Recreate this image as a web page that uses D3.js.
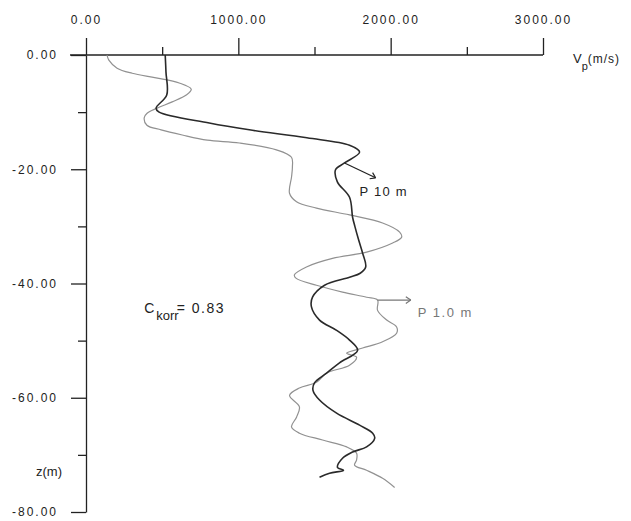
<!DOCTYPE html>
<html>
<head>
<meta charset="utf-8">
<script src="https://cdn.jsdelivr.net/npm/d3@7"></script>
<style>
  body { margin: 0; background: #fff; }
  text { font-family: "Liberation Sans", Arial, sans-serif; fill: #222; }
</style>
</head>
<body>
<div id="chart"></div>
<script>
// velocity ticks (m/s) and depth ticks (m)
var vpTicks = [0, 1000, 2000, 3000];
var vpMinor = [500, 1500, 2500];
var zTicks = [0, -20, -40, -60, -80];
var zMinor = [-10, -30, -50, -70];

// P 10 m profile
var depth10 = [0, -3, -7, -9.3, -10, -11.9, -13.1, -14.5, -15.8, -17, -18.9, -20.1, -22.2, -24.9, -28.4, -30, -32.4, -34.7, -37.1, -38.2, -38.9, -40.3, -42.4, -44.1, -46.4, -48.2, -49.9, -51.7, -53.9, -55.7, -57.4, -58.7, -60.4, -62.7, -64.8, -66.2, -67.1, -68.6, -69.5, -70.6, -72.2, -72.7, -73.2, -73.9];
var vp10 = [520, 525, 530, 460, 480, 809, 1072, 1450, 1730, 1796, 1697, 1638, 1650, 1730, 1750, 1765, 1790, 1816, 1836, 1800, 1730, 1566, 1487, 1480, 1533, 1645, 1730, 1783, 1664, 1579, 1500, 1490, 1533, 1645, 1796, 1882, 1895, 1842, 1750, 1684, 1651, 1690, 1599, 1533];

// P 1.0 m profile
var depth1 = [0, -0.9, -2.3, -3.2, -4, -4.9, -6, -7, -8.2, -9.3, -10.2, -11, -12.3, -13.1, -14, -14.9, -15.4, -16.6, -17.9, -19.6, -21.4, -24.2, -25.7, -26.8, -28, -29.4, -31, -31.9, -32.9, -34.5, -35.6, -37.1, -38.5, -39.1, -40.3, -41.5, -42.4, -42.9, -44.7, -46.4, -47.6, -48.7, -50.2, -51.3, -52.2, -52.9, -54.3, -55.7, -57.3, -58.3, -59.6, -61.6, -63.4, -65.1, -66.2, -67.4, -68.6, -69.7, -70.9, -71.8, -72.7, -74.1, -75.7];
var vp1 = [138, 150, 204, 303, 460, 612, 691, 658, 566, 467, 401, 382, 400, 493, 632, 796, 1007, 1250, 1349, 1355, 1349, 1336, 1382, 1513, 1730, 1947, 2059, 2072, 2013, 1842, 1618, 1447, 1368, 1380, 1513, 1684, 1842, 1914, 1914, 1974, 2039, 2039, 1947, 1816, 1711, 1776, 1730, 1579, 1513, 1401, 1336, 1401, 1382, 1349, 1401, 1553, 1711, 1776, 1776, 1763, 1842, 1947, 2026];

var width = 631, height = 521;
var svg = d3.select("#chart").append("svg")
    .attr("width", width)
    .attr("height", height);

var x = d3.scaleLinear().domain([0, 3000]).range([86, 543]);
var y = d3.scaleLinear().domain([0, -80]).range([55, 512]);
// plain hyphen like the original, not the unicode minus
var fmt = function(d){ return d.toFixed(2); };

// top axis
var xAxis = svg.append("g")
    .attr("class", "axis")
    .attr("transform", "translate(0," + y(0) + ")")
    .call(d3.axisTop(x).tickValues(vpTicks).tickSize(17).tickPadding(14).tickFormat(fmt));
svg.append("g")
    .attr("transform", "translate(0," + y(0) + ")")
    .call(d3.axisTop(x).tickValues(vpMinor).tickSize(8).tickFormat(""))
    .select(".domain").remove();
xAxis.select(".domain").remove();
svg.append("line")
    .attr("x1", x(0) - 16).attr("x2", x(3000))
    .attr("y1", y(0)).attr("y2", y(0))
    .attr("stroke", "#222").attr("stroke-width", 1.3);

// left axis
var yAxis = svg.append("g")
    .attr("class", "axis")
    .attr("transform", "translate(" + x(0) + ",0)")
    .call(d3.axisLeft(y).tickValues(zTicks).tickSize(15).tickSizeOuter(0).tickPadding(13).tickFormat(fmt));
svg.append("g")
    .attr("transform", "translate(" + x(0) + ",0)")
    .call(d3.axisLeft(y).tickValues(zMinor).tickSize(8).tickFormat(""))
    .select(".domain").remove();

svg.selectAll(".axis text")
    .style("font-size", "12px")
    .style("letter-spacing", "2px")
    .style("fill", "#222");
svg.selectAll("g line, g path").attr("stroke", "#222").attr("stroke-width", 1.3);

// profiles
var line = d3.line()
    .x(function(d){ return x(d[1]); })
    .y(function(d){ return y(d[0]); })
    .curve(d3.curveCatmullRom.alpha(0.5));

svg.append("path")
    .datum(d3.zip(depth1, vp1))
    .attr("d", line)
    .attr("fill", "none")
    .attr("stroke", "#919191")
    .attr("stroke-width", 1.2);

svg.append("path")
    .datum(d3.zip(depth10, vp10))
    .attr("d", line)
    .attr("fill", "none")
    .attr("stroke", "#2a2a2a")
    .attr("stroke-width", 1.6);

// arrows + labels
function arrow(v0, z0, v1, z1, col){
    var x0 = x(v0), y0 = y(z0), x1 = x(v1), y1 = y(z1);
    var a = Math.atan2(y1 - y0, x1 - x0);
    svg.append("line")
        .attr("x1", x0).attr("y1", y0).attr("x2", x1).attr("y2", y1)
        .attr("stroke", col).attr("stroke-width", 1.2);
    [0.6, -0.6].forEach(function(da){
        svg.append("line")
            .attr("x1", x1).attr("y1", y1)
            .attr("x2", x1 - 6 * Math.cos(a + da)).attr("y2", y1 - 6 * Math.sin(a + da))
            .attr("stroke", col).attr("stroke-width", 1.2);
    });
}
arrow(1697, -18.9, 1901, -21.5, "#222");
arrow(1914, -42.9, 2132, -42.9, "#777");

svg.append("text")
    .attr("x", x(1796)).attr("y", y(-24.7))
    .style("font-size", "13px").style("letter-spacing", "1.2px")
    .text("P 10 m");
svg.append("text")
    .attr("x", x(2178)).attr("y", y(-45.9))
    .style("font-size", "13px").style("letter-spacing", "1.5px")
    .style("fill", "#777")
    .text("P 1.0 m");

var ck = svg.append("text")
    .attr("x", x(382)).attr("y", y(-45.2))
    .style("font-size", "14px");
ck.append("tspan").text("C");
ck.append("tspan").attr("dy", 7).attr("dx", 2).style("font-size", "13px").text("korr");
ck.append("tspan").attr("dy", -7).attr("dx", -2).style("letter-spacing", "1.5px").text("= 0.83");

var vp = svg.append("text")
    .attr("x", 573).attr("y", 63)
    .style("font-size", "13px");
vp.append("tspan").text("V");
vp.append("tspan").attr("dy", 7).style("font-size", "11px").text("p");
vp.append("tspan").attr("dy", -7).style("font-size", "12px").style("letter-spacing", "1px").text("(m/s)");

svg.append("text")
    .attr("x", 62).attr("y", 476)
    .attr("text-anchor", "end")
    .style("font-size", "13px")
    .text("z(m)");
</script>
</body>
</html>
